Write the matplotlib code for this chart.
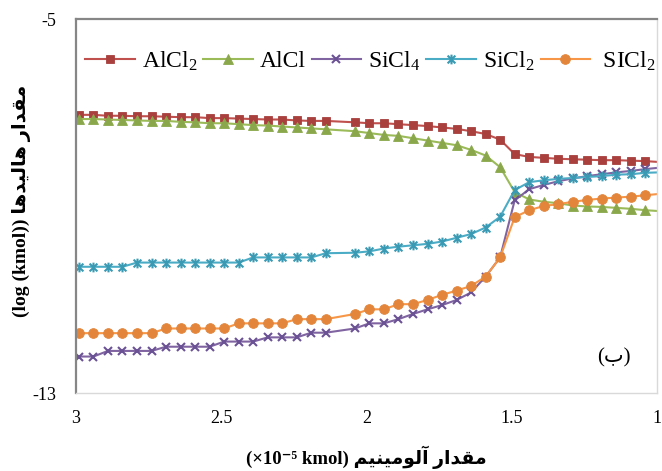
import matplotlib
matplotlib.use("Agg")
import matplotlib.pyplot as plt
from matplotlib.path import Path

plt.rcParams['axes.unicode_minus'] = False
plt.rcParams['mathtext.default'] = 'regular'
plt.rcParams['font.family'] = ['Liberation Serif', 'DejaVu Sans']

# aluminium amount (x10^-5 kmol)
aluminium = [2.99, 2.94, 2.89, 2.84, 2.79, 2.74, 2.69, 2.64, 2.59, 2.54,
             2.49, 2.44, 2.39, 2.34, 2.29, 2.24, 2.19, 2.14, 2.04, 1.99,
             1.94, 1.89, 1.84, 1.79, 1.74, 1.69, 1.64, 1.59, 1.54, 1.49,
             1.44, 1.39, 1.34, 1.29, 1.24, 1.19, 1.14, 1.09, 1.04, 0.99]

# log(kmol) of each halide
alcl2 = [-7.05, -7.05, -7.07, -7.07, -7.08, -7.08, -7.09, -7.10, -7.10, -7.12,
         -7.12, -7.13, -7.14, -7.15, -7.15, -7.17, -7.18, -7.18, -7.21, -7.23,
         -7.23, -7.25, -7.27, -7.29, -7.32, -7.35, -7.40, -7.46, -7.58, -7.89,
         -7.95, -7.97, -7.99, -8.00, -8.01, -8.02, -8.02, -8.03, -8.04, -8.06]
alcl = [-7.14, -7.14, -7.15, -7.16, -7.17, -7.18, -7.18, -7.20, -7.21, -7.23,
        -7.23, -7.25, -7.27, -7.28, -7.30, -7.32, -7.34, -7.36, -7.40, -7.44,
        -7.48, -7.50, -7.55, -7.60, -7.65, -7.70, -7.80, -7.92, -8.17, -8.70,
        -8.86, -8.91, -8.94, -8.99, -9.01, -9.02, -9.04, -9.06, -9.09, -9.11]
sicl4 = [-12.22, -12.22, -12.10, -12.10, -12.10, -12.10, -12.01, -12.01, -12.01, -12.01,
         -11.90, -11.90, -11.90, -11.81, -11.81, -11.81, -11.71, -11.71, -11.62, -11.51,
         -11.51, -11.42, -11.31, -11.21, -11.12, -11.01, -10.85, -10.51, -10.10, -8.88,
         -8.64, -8.55, -8.47, -8.41, -8.36, -8.32, -8.28, -8.25, -8.21, -8.18]
sicl2 = [-10.30, -10.30, -10.30, -10.30, -10.21, -10.21, -10.21, -10.21, -10.21, -10.21,
         -10.21, -10.21, -10.10, -10.10, -10.10, -10.10, -10.10, -10.01, -10.00, -9.97,
         -9.91, -9.87, -9.84, -9.81, -9.76, -9.68, -9.60, -9.46, -9.23, -8.66,
         -8.49, -8.45, -8.42, -8.40, -8.38, -8.36, -8.33, -8.32, -8.29, -8.28]
sicl2_b = [-11.72, -11.72, -11.72, -11.72, -11.72, -11.72, -11.62, -11.62, -11.62, -11.62,
           -11.62, -11.51, -11.51, -11.51, -11.51, -11.42, -11.42, -11.42, -11.31, -11.21,
           -11.21, -11.10, -11.10, -11.01, -10.90, -10.81, -10.71, -10.51, -10.10, -9.24,
           -9.09, -9.00, -8.96, -8.91, -8.87, -8.84, -8.82, -8.80, -8.77, -8.74]

series_names = ['AlCl$_2$', 'AlCl', 'SiCl$_4$', 'SiCl$_2$', ' SICl$_2$']
x_ticks = [3, 2.5, 2, 1.5, 1]
x_tick_labels = ['3', '2.5', '2', '1.5', '1']
y_ticks = [-13, -5]
y_tick_labels = ['-13', '-5']

# no shaping in matplotlib, so join the persian letters by hand (presentation forms)
FORMS = {
    'ا': ('\uFE8D', '\uFE8E', None, None),
    'آ': ('\uFE81', '\uFE82', None, None),
    'د': ('\uFEA9', '\uFEAA', None, None),
    'ر': ('\uFEAD', '\uFEAE', None, None),
    'و': ('\uFEED', '\uFEEE', None, None),
    'ق': ('\uFED5', '\uFED6', '\uFED7', '\uFED8'),
    'م': ('\uFEE1', '\uFEE2', '\uFEE3', '\uFEE4'),
    'ه': ('\uFEE9', '\uFEEA', '\uFEEB', '\uFEEC'),
    'ل': ('\uFEDD', '\uFEDE', '\uFEDF', '\uFEE0'),
    'ن': ('\uFEE5', '\uFEE6', '\uFEE7', '\uFEE8'),
    'ی': ('\uFBFC', '\uFBFD', '\uFBFE', '\uFBFF'),
}

def rtl(word):
    out = []
    for i, ch in enumerate(word):
        iso, fin, ini, med = FORMS[ch]
        joins_prev = i > 0 and FORMS[word[i - 1]][2] is not None
        joins_next = i < len(word) - 1 and ini is not None
        if joins_prev and joins_next:
            out.append(med)
        elif joins_prev:
            out.append(fin)
        elif joins_next:
            out.append(ini)
        else:
            out.append(iso)
    return ''.join(reversed(out))

ylabel = '(log (kmol)) ' + rtl('هالیدها') + ' ' + rtl('مقدار')
xlabel = '(×10⁻⁵ kmol) ' + rtl('آلومینیم') + ' ' + rtl('مقدار')

star = Path([(-1, -1), (1, 1), (-1, 1), (1, -1), (0, -1.25), (0, 1.25)],
            [Path.MOVETO, Path.LINETO] * 3)

fig = plt.figure(figsize=(6.62, 4.71), dpi=100)
ax = fig.add_axes([76 / 662, 1 - 393 / 471, 581 / 662, 374 / 471])

styles = [
    (alcl2, '#C0504D', '#A9403E', 's', 6.3),
    (alcl, '#9BBB59', '#8AA84B', '^', 6.5),
    (sicl4, '#8064A2', '#6A5294', 'x', 6.0),
    (sicl2, '#4BACC6', '#3A9AB4', star, 7.0),
    (sicl2_b, '#F79646', '#E3853A', 'o', 7.0),
]
for (vals, lc, mc, mk, ms), name in zip(styles, series_names):
    open_marker = mk in ('x',) or mk is star
    ax.plot(aluminium, vals, color=lc, lw=1.5, marker=mk, ms=ms,
            mfc='none' if open_marker else mc, mec=mc,
            mew=1.5 if open_marker else 0.6,
            markevery=slice(0, -1), label=name)

ax.set_xlim(3, 1)
ax.set_ylim(-13, -5)
ax.set_xticks(x_ticks)
ax.set_xticklabels(x_tick_labels)
ax.set_yticks(y_ticks)
ax.set_yticklabels(y_tick_labels)
ax.tick_params(axis='both', length=0, labelsize=13)
ax.tick_params(axis='y', pad=14)
ax.tick_params(axis='x', pad=12)

for side in ['left', 'top']:
    ax.spines[side].set_color('#868686')
    ax.spines[side].set_linewidth(1.6)
for side in ['right', 'bottom']:
    ax.spines[side].set_color('#D9D9D9')
    ax.spines[side].set_linewidth(1.0)

ax.set_xlabel(xlabel, fontsize=13.5, fontweight='bold')
ax.xaxis.set_label_coords(0.5, (393 - 457) / 374)
ax.xaxis.label.set_va('center')
ax.set_ylabel(ylabel, fontsize=14, fontweight='bold')
ax.yaxis.set_label_coords((22 - 76) / 581, (393 - 201) / 374)
ax.yaxis.label.set_va('center')
ax.yaxis.label.set_ha('center')

ax.text(0.926, 0.094, '(ب)', transform=ax.transAxes, fontsize=15,
        ha='center', va='center')

ax.legend(ncol=5, loc='center left', bbox_to_anchor=(85 / 662, 1 - 61 / 471),
          bbox_transform=fig.transFigure, frameon=False, fontsize=17,
          handlelength=2.1, handletextpad=0.3, columnspacing=0.25,
          borderpad=0, borderaxespad=0)

fig.savefig('out.png', dpi=100)
